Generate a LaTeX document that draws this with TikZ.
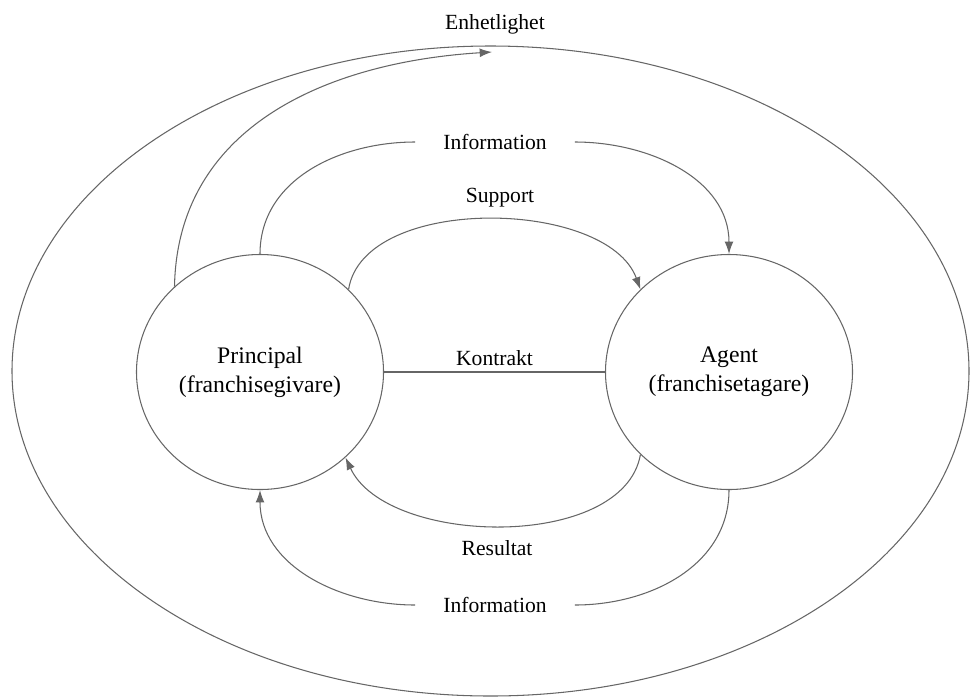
\documentclass[tikz,border=0pt]{standalone}
\usepackage{fontspec}
\setmainfont{Liberation Serif}
\usetikzlibrary{arrows.meta, positioning, shapes.geometric}

\begin{document}
\begin{tikzpicture}[
        party/.style={draw=black!60, line width=0.6pt, ellipse, minimum width=4.94cm, minimum height=4.7cm, align=center, font=\fontsize{13.5}{16.5}\selectfont},
        flow/.style={draw=black!60, line width=0.6pt},
        arr/.style={flow, -{Latex[length=7pt, width=5pt]}, black!60},
        lbl/.style={font=\fontsize{12.3}{15}\selectfont}
    ]
        \useasboundingbox (0,0) rectangle (19.42,-13.96);

        \node[ellipse, draw=black!60, line width=0.6pt, minimum width=19.14cm, minimum height=13cm] (system) at (9.81,-7.42) {};

        \node[party] (principal) at (5.2,-7.44) {Principal\\(franchisegivare)};
        \node[party] (agent) at (14.58,-7.44) {Agent\\(franchisetagare)};

        % labels
        \node[lbl] (enhetlighet) at (9.9,-0.48) {Enhetlighet};
        \node[lbl, inner xsep=0.56cm] (infotop) at (9.9,-2.84) {Information};
        \node[lbl] (support) at (10,-3.96) {Support};
        \node[lbl] (resultat) at (9.94,-10.96) {Resultat};
        \node[lbl, inner xsep=0.56cm] (infobot) at (9.9,-12.1) {Information};
        \coordinate (enhetend) at (9.84,-1.04);

        % flows
        \draw[flow] (principal) -- node[lbl, above] (kontrakt) {Kontrakt} (agent);
        \draw[arr] (principal.135) .. controls (3.55,-2.5) and (6.6,-1.24) .. (enhetend);
        \draw[flow] (principal.north) to[out=90, in=180] (infotop.west);
        \draw[arr] (infotop.east) to[out=0, in=90] (agent.north);
        \draw[arr] (principal.43) to[out=81, in=110, looseness=0.85] (agent.137);
        \draw[arr] (agent.223) to[out=-100, in=-65, looseness=0.85] (principal.-45);
        \draw[flow] (agent.south) to[out=-90, in=0] (infobot.east);
        \draw[arr] (infobot.west) to[out=180, in=-90] (principal.south);
    \end{tikzpicture}
\end{document}
